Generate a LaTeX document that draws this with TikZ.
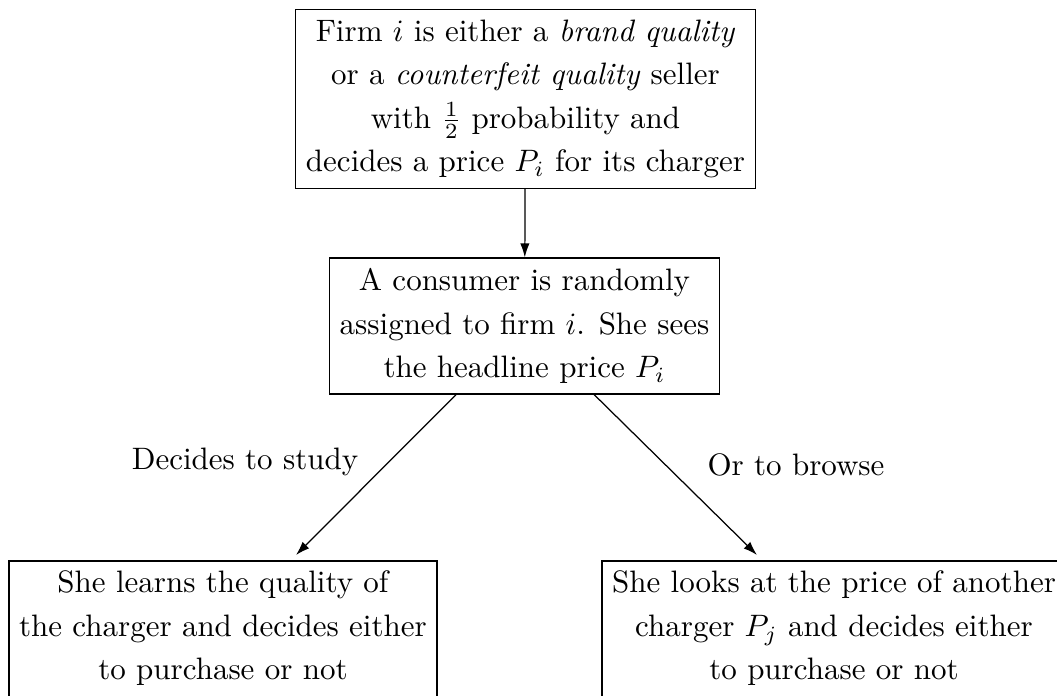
\documentclass[tikz,border=0pt]{standalone}
\usetikzlibrary{arrows.meta}
\begin{document}
\begin{tikzpicture}[x=0.32258pt, y=-0.32258pt,
  box/.style={draw, line width=0.5pt, align=center, font=\fontsize{10}{14}\selectfont},
  lbl/.style={font=\fontsize{10}{14}\selectfont},
  arr/.style={-{Latex[length=4.5pt,width=3pt]}, line width=0.4pt}]
\useasboundingbox (0,0) rectangle (1057,695);
\node[box] (top) at (525.5,99) {Firm $i$ is either a \emph{brand quality}\\ or a \emph{counterfeit quality} seller\\ with $\frac{1}{2}$ probability and\\ decides a price $P_i$ for its charger};
\node[box] (mid) at (524.5,326) {A consumer is randomly\\ assigned to firm $i$. She sees\\ the headline price $P_i$};
\node[box, anchor=north west] (left) at (8,560) {She learns the quality of\\ the charger and decides either\\ to purchase or not\rule[-5pt]{0pt}{5pt}};
\node[box, anchor=north] (right) at (834,560) {She looks at the price of another\\ charger $P_j$ and decides either\\ to purchase or not\rule[-5pt]{0pt}{5pt}};
\coordinate (tl) at (296,555);
\coordinate (tr) at (757,555);
\draw[arr] (top) -- (mid);
\draw[arr] (mid) -- (tl);
\draw[arr] (mid) -- (tr);
\node[lbl] (study) at (245,462) {Decides to study};
\node[lbl] (browse) at (796,465) {Or to browse};
\end{tikzpicture}
\end{document}
